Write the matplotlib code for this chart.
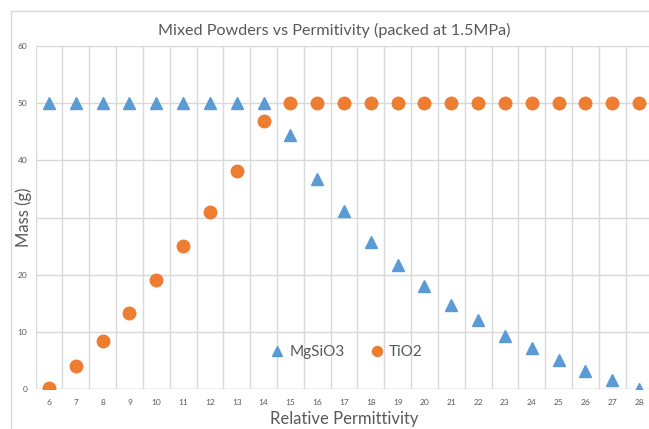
import numpy as np
import matplotlib.pyplot as plt
from matplotlib.patches import Rectangle

# data
permittivity = list(range(6, 29))
mgsio3 = [50, 50, 50, 50, 50, 50, 50, 50, 50, 44.4, 36.7, 31.1, 25.7, 21.7,
          18.0, 14.7, 12.1, 9.3, 7.2, 5.1, 3.1, 1.6, 0.0]
tio2 = [0.2, 4.0, 8.4, 13.3, 19.1, 25.0, 30.9, 38.1, 46.9, 50, 50, 50, 50, 50,
        50, 50, 50, 50, 50, 50, 50, 50, 50]
y_ticks = [0, 10, 20, 30, 40, 50, 60]
# the "30" label sits under the axis title in the reference
y_labels = ['0', '10', '20', '', '40', '50', '60']

plt.rcParams['font.family'] = ['Lato', 'DejaVu Sans']
gray = '#595959'
grid = '#d9d9d9'

fig = plt.figure(figsize=(6.49, 4.29), dpi=100)
ax = fig.add_axes([0.0549, 0.0932, 0.9504, 0.7996])

# chart border
fig.patches.append(Rectangle((11 / 649, -0.01), 1.0, 1 - 11 / 429 + 0.01,
                             transform=fig.transFigure, fill=False,
                             edgecolor='#d9d9d9', lw=1.0, zorder=0))

ax.plot(permittivity, mgsio3, linestyle='none', marker='^', ms=9,
        color='#5B9BD5', label='MgSiO3', zorder=3)
ax.plot(permittivity, tio2, linestyle='none', marker='o', ms=9,
        color='#ED7D31', label='TiO2', zorder=3)

ax.set_xlim(5.5, 28.5)
ax.set_ylim(0, 60)
ax.set_xticks(permittivity)
ax.set_xticklabels([str(p) for p in permittivity])
ax.set_xticks(np.arange(5.5, 29, 1), minor=True)
ax.set_yticks(y_ticks)
ax.set_yticklabels(y_labels)
ax.tick_params(axis='both', which='both', length=0, labelsize=6, colors=gray)
ax.tick_params(axis='x', pad=7)
ax.tick_params(axis='y', pad=6)

ax.grid(True, axis='y', which='major', color=grid, lw=1)
ax.grid(True, axis='x', which='minor', color=grid, lw=1)
ax.set_axisbelow(True)
for s in ax.spines.values():
    s.set_visible(False)
ax.axhline(0, color=grid, lw=1, zorder=1)

ax.set_xlabel('Relative Permittivity', fontsize=12, color=gray, labelpad=4)
ax.set_ylabel('Mass (g)', fontsize=12, color=gray)
ax.yaxis.set_label_coords(-0.006, 0.5)
fig.text(0.5155, 0.930, 'Mixed Powders vs Permitivity (packed at 1.5MPa)',
         ha='center', va='center', fontsize=11.6, color=gray)

leg = ax.legend(loc='center', bbox_to_anchor=(0.497, 0.107), ncol=2,
                frameon=False, fontsize=11, handletextpad=-0.2,
                columnspacing=1.1, markerscale=0.8)
for t in leg.get_texts():
    t.set_color(gray)

fig.savefig('out.png', dpi=100)
